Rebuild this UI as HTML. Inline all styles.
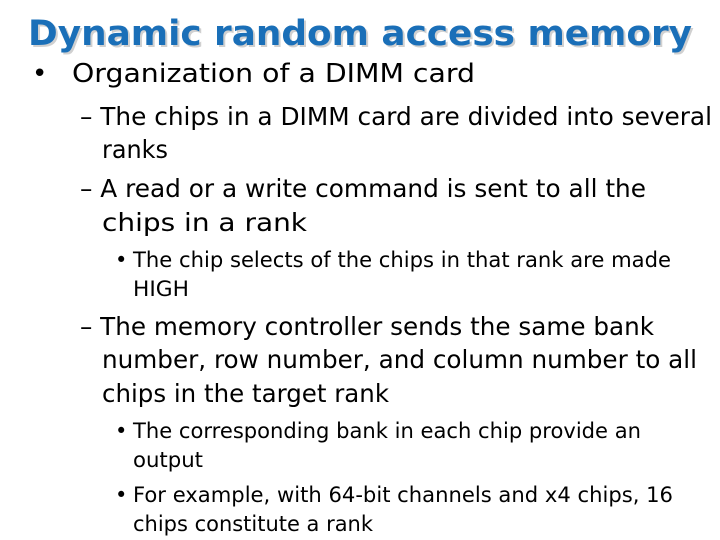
<!DOCTYPE html>
<html><head><meta charset="utf-8"><style>
html,body{margin:0;padding:0;background:#fff;width:720px;height:540px;overflow:hidden}
svg{display:block}
text{font-family:"DejaVu Sans","Liberation Sans",sans-serif;fill:#000}
.t{font-weight:bold;fill:#1a6fb8;font-size:35px}
.ts{font-weight:bold;fill:#d0d0d0;font-size:35px}
.l1{font-size:26px}
.l2{font-size:25px}
.l3{font-size:21px}
</style></head><body>
<svg width="720" height="540" xmlns="http://www.w3.org/2000/svg">
<text class="ts" x="30" y="47" textLength="664" lengthAdjust="spacingAndGlyphs">Dynamic random access memory</text>
<text class="t" x="28" y="45" textLength="664" lengthAdjust="spacingAndGlyphs">Dynamic random access memory</text>
<text class="l1" x="32" y="82">•</text>
<text class="l1" x="72" y="82" textLength="403" lengthAdjust="spacingAndGlyphs">Organization of a DIMM card</text>
<text class="l2" x="80" y="125" textLength="632" lengthAdjust="spacingAndGlyphs">– The chips in a DIMM card are divided into several</text>
<text class="l2" x="102" y="158" textLength="66" lengthAdjust="spacingAndGlyphs">ranks</text>
<text class="l2" x="80" y="197" textLength="566" lengthAdjust="spacingAndGlyphs">– A read or a write command is sent to all the</text>
<text class="l2" x="102" y="231" textLength="205" lengthAdjust="spacingAndGlyphs">chips in a rank</text>
<text class="l3" x="115" y="267">•</text>
<text class="l3" x="133" y="267" textLength="538" lengthAdjust="spacingAndGlyphs">The chip selects of the chips in that rank are made</text>
<text class="l3" x="133" y="296" textLength="56" lengthAdjust="spacingAndGlyphs">HIGH</text>
<text class="l2" x="80" y="335" textLength="574" lengthAdjust="spacingAndGlyphs">– The memory controller sends the same bank</text>
<text class="l2" x="102" y="368" textLength="595" lengthAdjust="spacingAndGlyphs">number, row number, and column number to all</text>
<text class="l2" x="102" y="402" textLength="287" lengthAdjust="spacingAndGlyphs">chips in the target rank</text>
<text class="l3" x="115" y="438">•</text>
<text class="l3" x="133" y="438" textLength="508" lengthAdjust="spacingAndGlyphs">The corresponding bank in each chip provide an</text>
<text class="l3" x="133" y="467" textLength="70" lengthAdjust="spacingAndGlyphs">output</text>
<text class="l3" x="115" y="502">•</text>
<text class="l3" x="133" y="502" textLength="540" lengthAdjust="spacingAndGlyphs">For example, with 64-bit channels and x4 chips, 16</text>
<text class="l3" x="133" y="531" textLength="240" lengthAdjust="spacingAndGlyphs">chips constitute a rank</text>
</svg>
</body></html>
